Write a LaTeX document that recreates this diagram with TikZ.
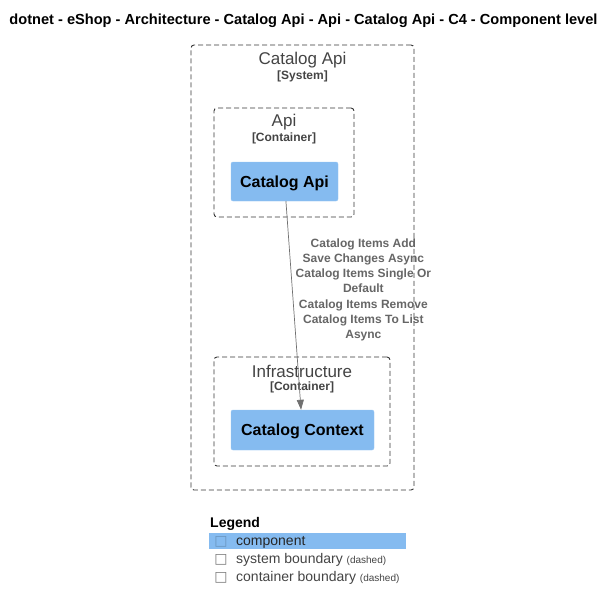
\documentclass[tikz,border=0pt]{standalone}
\usepackage{fontspec}
\setmainfont{Liberation Sans}
\newfontfamily\symfont{DejaVu Sans}
\usetikzlibrary{arrows.meta}
\definecolor{compblue}{HTML}{85BBF0}
\definecolor{bndgray}{HTML}{444444}
\definecolor{relgray}{HTML}{707070}
\definecolor{lblgray}{HTML}{666666}
\tikzstyle{boundary} = [rectangle, draw=bndgray!80!black, line width=0.9pt, dash pattern=on 5pt off 3pt, rounded corners=3pt]
\tikzstyle{component} = [rectangle, fill=compblue, draw=compblue!85!white, rounded corners=2pt, text=black, text depth=0pt, font=\fontsize{16}{18}\selectfont\bfseries]
\tikzstyle{bname} = [text=bndgray, inner sep=0pt, font=\fontsize{17}{19}\selectfont]
\tikzstyle{btype} = [text=bndgray, inner sep=0pt, font=\fontsize{12}{14}\selectfont\bfseries]
\tikzstyle{legtext} = [anchor=west, inner sep=0pt, text=bndgray, font=\fontsize{14}{16}\selectfont]
\tikzstyle{legbox} = [inner sep=0pt, text=bndgray!70!white, font=\symfont\fontsize{14}{16}\selectfont]

\begin{document}
\begin{tikzpicture}[>={Triangle[length=10pt,width=7pt]}]
  \useasboundingbox (0pt,0pt) rectangle (614pt,-611pt);
  \draw (303.5pt, -21pt)node[inner sep=0pt, font=\fontsize{14.6}{17}\selectfont\bfseries](title){dotnet - eShop - Architecture - Catalog Api - Api - Catalog Api - C4 - Component level};
  % boundaries
  \draw (302.5pt, -267.5pt)node[boundary, minimum width=223pt, minimum height=445pt](sys){};
  \draw (302.5pt, -60pt)node[bname](sysname){Catalog Api};
  \draw (302.5pt, -76.5pt)node[btype](systype){[System]};
  \draw (284pt, -162.5pt)node[boundary, minimum width=140pt, minimum height=109pt](api){};
  \draw (284pt, -122pt)node[bname](apiname){Api};
  \draw (284pt, -138.5pt)node[btype](apitype){[Container]};
  \draw (302pt, -411.5pt)node[boundary, minimum width=176pt, minimum height=109pt](infra){};
  \draw (302pt, -371pt)node[bname](infraname){Infrastructure};
  \draw (302pt, -387.5pt)node[btype](infratype){[Container]};
  % components
  \draw (284.5pt, -181.5pt)node[component, minimum width=107pt, minimum height=39pt](catapi){Catalog Api};
  \draw (302.5pt, -430pt)node[component, minimum width=143pt, minimum height=40pt](catctx){Catalog Context};
  \path[->, relgray, line width=0.7pt] (catapi) edge[relgray] node[pos=0.425, xshift=71pt, align=center, text=lblgray, inner sep=0pt, font=\fontsize{12}{15.2}\selectfont\bfseries]{Catalog Items Add\\Save Changes Async\\Catalog Items Single Or\\Default\\Catalog Items Remove\\Catalog Items To List\\Async}(catctx);
  % legend
  \draw (210pt, -524pt)node[anchor=west, inner sep=0pt, font=\fontsize{14}{16}\selectfont\bfseries](legend){Legend};
  \draw (307.5pt, -541pt)node[fill=compblue, minimum width=197pt, minimum height=16pt, inner sep=0pt](legcomp){};
  \draw (221pt, -542pt)node[legbox, text=compblue!80!black](box1){□};
  \draw (236pt, -542pt)node[legtext, text=black!85](leg1){component};
  \draw (221pt, -560pt)node[legbox](box2){□};
  \draw (236pt, -560pt)node[legtext](leg2){system boundary {\fontsize{10}{11}\selectfont(dashed)}};
  \draw (221pt, -578pt)node[legbox](box3){□};
  \draw (236pt, -578pt)node[legtext](leg3){container boundary {\fontsize{10}{11}\selectfont(dashed)}};
\end{tikzpicture}
\end{document}
